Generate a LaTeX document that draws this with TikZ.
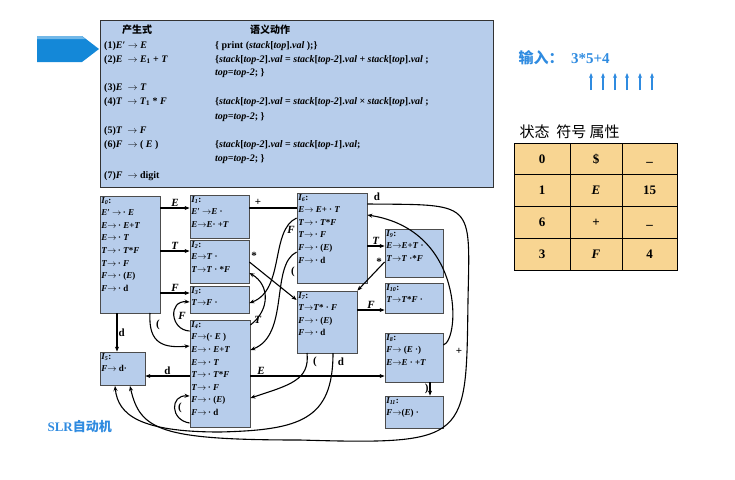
\documentclass[tikz,border=0pt]{standalone}
\usepackage{fontspec}
\setmainfont{Liberation Serif}
\newfontfamily\cjk{Noto Sans CJK SC}
\usetikzlibrary{arrows.meta}
\definecolor{boxblue}{HTML}{B7CDEB}
\definecolor{tabfill}{HTML}{F8D592}
\definecolor{hiblue}{HTML}{2F8BE0}
\definecolor{arrblue}{HTML}{1488D8}
\newcommand{\rar}{\ensuremath{\rightarrow}}
\newcommand{\iv}[1]{\textit{#1}}
\begin{document}
\begin{tikzpicture}[x=1pt,y=-1pt,
  st/.style={draw=black!70,fill=boxblue,line width=0.8pt,minimum width=#1,inner sep=0},
  stxt/.style={anchor=north west,align=left,inner sep=1.5pt,font=\bfseries\fontsize{9}{12.6}\selectfont},
  ed/.style={-{Stealth[length=5pt,width=4pt]},line width=1.1pt},
  lb/.style={font=\bfseries\fontsize{11}{11}\selectfont,inner sep=1pt},
  pr/.style={anchor=west,inner sep=0,font=\bfseries\fontsize{10}{12}\selectfont},
  tc/.style={draw=black,fill=tabfill,line width=0.8pt,minimum width=#1,minimum height=32,inner sep=0,font=\bfseries\fontsize{13}{13}\selectfont}]
\useasboundingbox (0,0) rectangle (735,479);
% arrow shape
\fill[arrblue] (37,36) -- (82,36) -- (99,49) -- (82,62) -- (37,62) -- cycle;
\fill[arrblue!60] (37,36) -- (82,36) -- (85,39) -- (37,39) -- cycle;
% production box
\node[draw=black!80,fill=boxblue,line width=0.8pt,minimum width=393,minimum height=167,inner sep=0] (prod) at (296.5,103.5) {};
\node[pr] (h1) at (122,30) {\cjk\itshape 产生式};
\node[pr] (h2) at (250,30) {\cjk 语义动作};
\node[pr] (p1) at (104,46) {(1)\iv{E}′ \rar\ \iv{E}};
\node[pr] (p2) at (104,60) {(2)\iv{E} \ \rar\ \iv{E}\textsubscript{1} + \iv{T}};
\node[pr] (p3) at (104,88) {(3)\iv{E} \ \rar\ \iv{T}};
\node[pr] (p4) at (104,102) {(4)\iv{T} \ \rar\ \iv{T}\textsubscript{1} * \iv{F}};
\node[pr] (p5) at (104,131) {(5)\iv{T} \ \rar\ \iv{F}};
\node[pr] (p6) at (104,145) {(6)\iv{F} \ \rar\ ( \iv{E} )};
\node[pr] (p7) at (104,176) {(7)\iv{F} \ \rar\ digit};
\node[pr] (a1) at (215,46) {\{ print (\iv{stack}[\iv{top}].\iv{val} );\}};
\node[pr] (a2) at (215,60) {\{\iv{stack}[\iv{top-2}].\iv{val} = \iv{stack}[\iv{top-2}].\iv{val} + \iv{stack}[\iv{top}].\iv{val} ;};
\node[pr] (a2b) at (215,73) {\iv{top=top-2}; \}};
\node[pr] (a4) at (215,102) {\{\iv{stack}[\iv{top-2}].\iv{val} = \iv{stack}[\iv{top-2}].\iv{val} × \iv{stack}[\iv{top}].\iv{val} ;};
\node[pr] (a4b) at (215,117) {\iv{top=top-2}; \}};
\node[pr] (a6) at (215,145) {\{\iv{stack}[\iv{top-2}].\iv{val} = \iv{stack}[\iv{top-1}].\iv{val};};
\node[pr] (a6b) at (215,159) {\iv{top=top-2}; \}};
% states
\node[st=60,minimum height=117,label={[stxt]north west:\iv{I\textsubscript{0}}:\\\iv{E}′ \rar\,· \iv{E}\\\iv{E}\rar\,· \iv{E}+\iv{T}\\\iv{E}\rar\,· \iv{T}\\\iv{T}\rar\,· \iv{T}*\iv{F}\\\iv{T}\rar\,· \iv{F}\\\iv{F}\rar\,· (\iv{E})\\\iv{F}\rar\,· d}] (I0) at (130,254.5) {};
\node[st=59,minimum height=43,label={[stxt]north west:\iv{I\textsubscript{1}}:\\\iv{E}′ \rar\iv{E} ·\\\iv{E}\rar\iv{E}· +\iv{T}}] (I1) at (219.5,216.5) {};
\node[st=59,minimum height=43,label={[stxt]north west:\iv{I\textsubscript{2}}:\\\iv{E}\rar\iv{T} ·\\\iv{T}\rar\iv{T} · *\iv{F}}] (I2) at (219.5,261.5) {};
\node[st=59,minimum height=27,label={[stxt]north west:\iv{I\textsubscript{3}}:\\\iv{T}\rar\iv{F} ·}] (I3) at (219.5,299.5) {};
\node[st=60,minimum height=107,label={[stxt]north west:\iv{I\textsubscript{4}}:\\\iv{F}\rar(· \iv{E} )\\\iv{E}\rar\,· \iv{E}+\iv{T}\\\iv{E}\rar\,· \iv{T}\\\iv{T}\rar\,· \iv{T}*\iv{F}\\\iv{T}\rar\,· \iv{F}\\\iv{F}\rar\,· (\iv{E})\\\iv{F}\rar\,· d}] (I4) at (220,373.5) {};
\node[st=45,minimum height=33,label={[stxt]north west:\iv{I\textsubscript{5}}:\\\iv{F}\rar\ d·}] (I5) at (122.5,368.5) {};
\node[st=70,minimum height=90,label={[stxt]north west:\iv{I\textsubscript{6}}:\\\iv{E}\rar\ \iv{E}+ · \iv{T}\\\iv{T}\rar\,· \iv{T}*\iv{F}\\\iv{T}\rar\,· \iv{F}\\\iv{F}\rar\,· (\iv{E})\\\iv{F}\rar\,· d}] (I6) at (332,238) {};
\node[st=58,minimum height=48,label={[stxt]north west:\iv{I\textsubscript{9}}:\\\iv{E}\rar\iv{E}+\iv{T} ·\\\iv{T}\rar\iv{T} ·*\iv{F}}] (I9) at (414,253) {};
\node[st=58,minimum height=30,label={[stxt]north west:\iv{I\textsubscript{10}}:\\\iv{T}\rar\iv{T}*\iv{F} ·}] (I10) at (414,298) {};
\node[st=60,minimum height=62,label={[stxt]north west:\iv{I\textsubscript{7}}:\\\iv{T}\rar\iv{T}* · \iv{F}\\\iv{F}\rar\,· (\iv{E})\\\iv{F}\rar\,· d}] (I7) at (327,322) {};
\node[st=58,minimum height=49,label={[stxt]north west:\iv{I\textsubscript{8}}:\\\iv{F}\rar\ (\iv{E} ·)\\\iv{E}\rar\iv{E} · +\iv{T}}] (I8) at (414,357.5) {};
\node[st=58,minimum height=32,label={[stxt]north west:\iv{I\textsubscript{11}}:\\\iv{F}\rar(\iv{E}) ·}] (I11) at (414,412) {};
% edges
\draw[ed] (I0.east |- 0,208) -- node[lb,above]{\iv{E}} (I1.west |- 0,208);
\draw[ed] (I0.east |- 0,251) -- node[lb,above]{\iv{T}} (I2.west |- 0,251);
\draw[ed] (I0.east |- 0,293) -- node[lb,above]{\iv{F}} (I3.west |- 0,293);
\draw[ed] (I0.south -| 117,0) -- node[lb,right]{d} (I5.north -| 117,0);
\draw[ed] (I4.west |- 0,376) -- node[lb,above]{d} (I5.east |- 0,376);
\draw[ed] (150,313) .. controls (148,345) and (165,348) .. (I4.west |- 0,346);
\node[lb] (lp0) at (158,325) {(};
\draw[ed] (I4.west |- 0,423) .. controls (170,420) and (170,395) .. (I4.west |- 0,396);
\node[lb] (lp4) at (180,408) {(};
\draw[ed] (I4.west |- 0,331) .. controls (170,330) and (168,300) .. (I3.west |- 0,302);
\node[lb] (lf4) at (182,316) {\iv{F}};
\draw[ed] (I4.east |- 0,325) .. controls (270,310) and (270,285) .. (I2.east |- 0,273);
\node[lb] (lt4) at (258,320) {\iv{T}};
\draw[ed] (I4.east |- 0,376) -- node[lb,above,pos=0.08]{\iv{E}} (I8.west |- 0,376);
\draw[line width=1.1pt] (I1.east |- 0,208) -- (I6.west |- 0,208);
\node[lb] (lplus) at (258,202) {+};
\draw[ed] (I2.east |- 0,262) -- (I7.west |- 0,300);
\node[lb] (lst) at (254,256) {*};
\draw[ed] (I6.east |- 0,246) -- node[lb,above]{\iv{T}} (I9.west |- 0,246);
\draw[ed] (I9.west |- 0,262) -- (I7.north east);
\node[lb] (lst2) at (379,262) {*};
\draw[ed] (I7.east |- 0,310) -- node[lb,above]{\iv{F}} (I10.west |- 0,310);
\draw[ed] (I8.south -| 430,0) -- node[lb,left]{)} (I11.north -| 430,0);
\draw[ed] (I8.east |- 0,345) .. controls (460,340) and (465,230) .. (I6.east |- 0,215);
\node[lb] (lp8) at (459,351) {+};
\draw[ed] (I6.east |- 0,204) .. controls (475,205) and (470,200) .. (468,300) .. controls (466,440) and (470,445) .. (300,440) .. controls (160,440) and (140,430) .. (130,386);
\node[lb] (ld6) at (377,197) {d};
\draw[ed] (I6.west |- 0,218) .. controls (270,230) and (285,290) .. (I3.east |- 0,303);
\node[lb] (lf6) at (291,230) {\iv{F}};
\draw[ed] (I6.west |- 0,252) .. controls (270,265) and (290,335) .. (I4.east |- 0,350);
\node[lb] (lp6) at (293,272) {(};
\draw[ed] (307,353) .. controls (310,380) and (290,385) .. (I4.east |- 0,398);
\node[lb] (lp7) at (315,362) {(};
\draw[ed] (333,353) .. controls (333,420) and (300,430) .. (220,432) .. controls (140,432) and (118,415) .. (115,386);
\node[lb] (ld7) at (341,362) {d};
% SLR
\node[anchor=west,text=hiblue,font=\bfseries\fontsize{13}{13}\selectfont] (slr) at (44,427) {SLR{\cjk 自动机}};
% input
\node[anchor=west,text=hiblue,font=\bfseries\fontsize{15}{15}\selectfont] (inp) at (515,58) {{\cjk 输入：}\ \ 3*5+4};
\foreach \xx in {591,603,615,627,640,652}
  \draw[hiblue,line width=1.2pt,-{Stealth[length=5pt,width=4pt]}] (\xx,90) -- (\xx,73);
% table
\node[anchor=west,font=\fontsize{15}{15}\selectfont\cjk] (th) at (516,132) {状态\ \ 符号\ 属性};
\node[tc=56] (r1) at (542,159) {0};
\node[tc=56] (r2) at (542,190.7) {1};
\node[tc=56] (r3) at (542,222.4) {6};
\node[tc=56] (r4) at (542,254.1) {3};
\node[tc=52] (s1) at (596,159) {\$};
\node[tc=52] (s2) at (596,190.7) {\iv{E}};
\node[tc=52] (s3) at (596,222.4) {+};
\node[tc=52] (s4) at (596,254.1) {\iv{F}};
\node[tc=55] (c1) at (649.5,159) {\raisebox{-6pt}{\_}};
\node[tc=55] (c2) at (649.5,190.7) {15};
\node[tc=55] (c3) at (649.5,222.4) {\raisebox{-6pt}{\_}};
\node[tc=55] (c4) at (649.5,254.1) {4};
\end{tikzpicture}
\end{document}
